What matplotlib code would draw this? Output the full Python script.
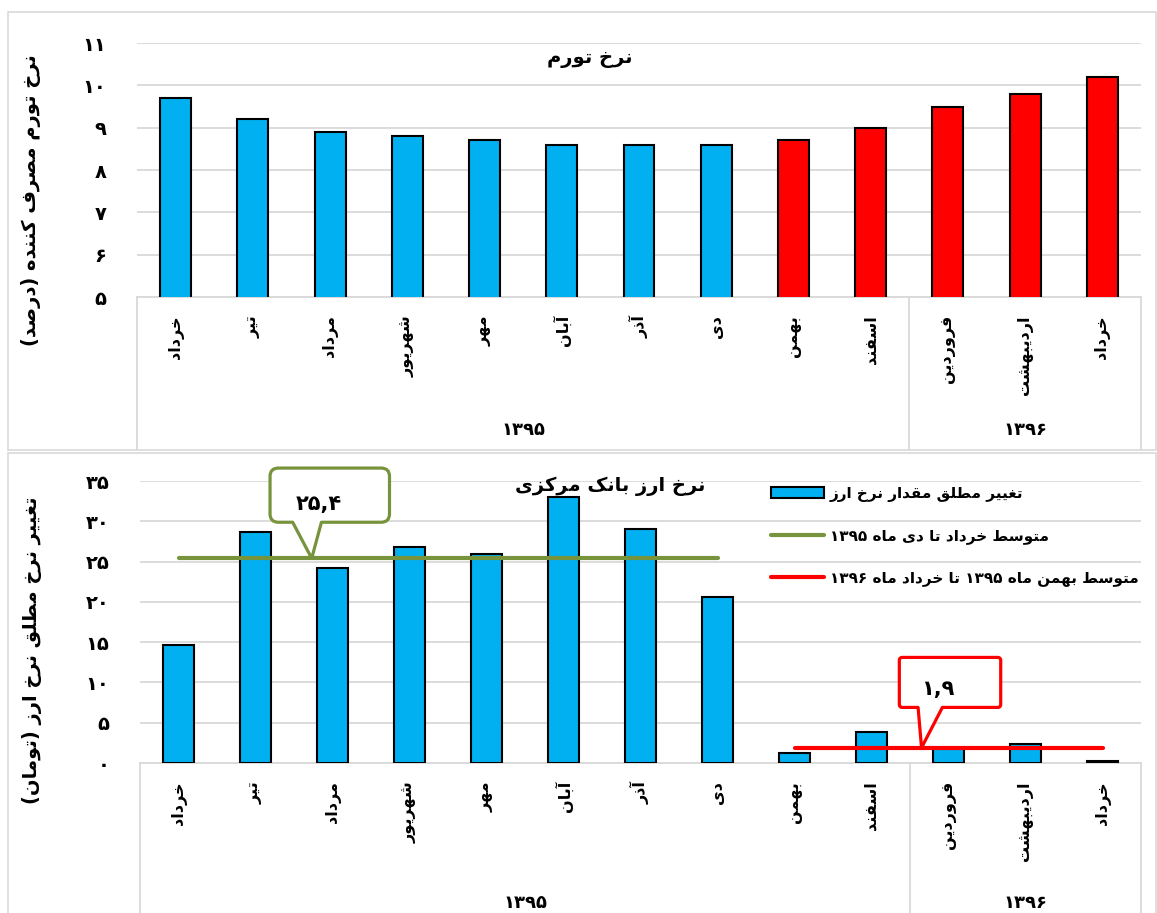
import re
import matplotlib
matplotlib.use('Agg')
import matplotlib.pyplot as plt
import matplotlib.transforms as mtransforms
from matplotlib.path import Path
from matplotlib.patches import PathPatch, Patch, Rectangle
from matplotlib.lines import Line2D

# ---------------- data ----------------
months = ['خرداد', 'تیر', 'مرداد', 'شهریور', 'مهر', 'آبان', 'آذر', 'دی',
          'بهمن', 'اسفند', 'فروردین', 'اردیبهشت', 'خرداد']
years = ['۱۳۹۵', '۱۳۹۶']
year_counts = [10, 3]

inflation = [9.7, 9.2, 8.9, 8.8, 8.7, 8.6, 8.6, 8.6, 8.7, 9.0, 9.5, 9.8, 10.2]
fx_change = [14.6, 28.7, 24.2, 26.8, 25.9, 33.0, 29.0, 20.6, 1.2, 3.9, 1.8, 2.3, 0.3]

split = 8                      # first month of the second period (bahman)
period_avg = [25.4, 1.9]
period_avg_txt = ['۲۵,۴', '۱,۹']

title1 = 'نرخ تورم'
ylabel1 = 'نرخ تورم مصرف کننده (درصد)'
title2 = 'نرخ ارز بانک مرکزی'
ylabel2 = 'تغییر نرخ مطلق نرخ ارز (تومان)'
legend_labels = ['تغییر مطلق مقدار نرخ ارز',
                 'متوسط خرداد تا دی ماه ۱۳۹۵',
                 'متوسط بهمن ماه ۱۳۹۵ تا خرداد ماه ۱۳۹۶']

BLUE = '#00B0F0'
RED = '#FF0000'
GREEN = '#77933C'
GRID = '#D9D9D9'

# ------------- tiny persian shaper (presentation forms + rtl) -------------
FORMS = {
    'ا': ('\uFE8D', '\uFE8E', None, None),
    'آ': ('\uFE81', '\uFE82', None, None),
    'ب': ('\uFE8F', '\uFE90', '\uFE91', '\uFE92'),
    'پ': ('\uFB56', '\uFB57', '\uFB58', '\uFB59'),
    'ت': ('\uFE95', '\uFE96', '\uFE97', '\uFE98'),
    'ج': ('\uFE9D', '\uFE9E', '\uFE9F', '\uFEA0'),
    'خ': ('\uFEA5', '\uFEA6', '\uFEA7', '\uFEA8'),
    'د': ('\uFEA9', '\uFEAA', None, None),
    'ذ': ('\uFEAB', '\uFEAC', None, None),
    'ر': ('\uFEAD', '\uFEAE', None, None),
    'ز': ('\uFEAF', '\uFEB0', None, None),
    'س': ('\uFEB1', '\uFEB2', '\uFEB3', '\uFEB4'),
    'ش': ('\uFEB5', '\uFEB6', '\uFEB7', '\uFEB8'),
    'ص': ('\uFEB9', '\uFEBA', '\uFEBB', '\uFEBC'),
    'ط': ('\uFEC1', '\uFEC2', '\uFEC3', '\uFEC4'),
    'غ': ('\uFECD', '\uFECE', '\uFECF', '\uFED0'),
    'ف': ('\uFED1', '\uFED2', '\uFED3', '\uFED4'),
    'ق': ('\uFED5', '\uFED6', '\uFED7', '\uFED8'),
    'ک': ('\uFB8E', '\uFB8F', '\uFB90', '\uFB91'),
    'گ': ('\uFB92', '\uFB93', '\uFB94', '\uFB95'),
    'ل': ('\uFEDD', '\uFEDE', '\uFEDF', '\uFEE0'),
    'م': ('\uFEE1', '\uFEE2', '\uFEE3', '\uFEE4'),
    'ن': ('\uFEE5', '\uFEE6', '\uFEE7', '\uFEE8'),
    'ه': ('\uFEE9', '\uFEEA', '\uFEEB', '\uFEEC'),
    'و': ('\uFEED', '\uFEEE', None, None),
    'ی': ('\uFBFC', '\uFBFD', '\uFBFE', '\uFBFF'),
}
LAM_ALEF = {'ا': ('\uFEFB', '\uFEFC'), 'آ': ('\uFEF5', '\uFEF6')}


def fa(text):
    toks = []
    i = 0
    while i < len(text):
        if text[i] == 'ل' and i + 1 < len(text) and text[i + 1] in LAM_ALEF:
            toks.append(('LA', text[i + 1]))
            i += 2
        else:
            toks.append((text[i], None))
            i += 1

    def dual(t):
        return t[0] in FORMS and FORMS[t[0]][2] is not None

    def joins(t):
        return t[0] == 'LA' or t[0] in FORMS

    out = []
    for k, t in enumerate(toks):
        prev = toks[k - 1] if k > 0 else None
        nxt = toks[k + 1] if k + 1 < len(toks) else None
        jp = prev is not None and dual(prev) and joins(t)
        if t[0] == 'LA':
            out.append(LAM_ALEF[t[1]][1 if jp else 0])
            continue
        if t[0] not in FORMS:
            out.append(t[0])
            continue
        f = FORMS[t[0]]
        jn = f[2] is not None and nxt is not None and joins(nxt)
        if jp and jn:
            out.append(f[3])
        elif jp:
            out.append(f[1])
        elif jn:
            out.append(f[2])
        else:
            out.append(f[0])
    vis = ''.join(out)[::-1]
    vis = re.sub('[۰-۹][۰-۹,]*', lambda m: m.group(0)[::-1], vis)
    return vis.translate(str.maketrans('()', ')('))


def fa_num(v):
    return str(v).translate(str.maketrans('0123456789', '۰۱۲۳۴۵۶۷۸۹'))


plt.rcParams['font.family'] = ['DejaVu Sans']

W, H = 1157, 913
fig = plt.figure(figsize=(W / 100, H / 100), dpi=100)


def px_axes(l, t, r, b):
    return fig.add_axes([l / W, 1 - b / H, (r - l) / W, (b - t) / H])


# chart area borders
for (l, t, r, b) in [(8, 12, 1156, 450), (8, 453, 1156, 920)]:
    fig.add_artist(Rectangle((l / W, 1 - b / H), (r - l) / W, (b - t) / H,
                             transform=fig.transFigure, fill=False,
                             ec=GRID, lw=1.2, clip_on=False))

x = list(range(len(months)))


def style_axis(ax, ymin, ymax, step, ylabel, label_pos, sep_depth, year_y):
    ax.set_xlim(-0.5, len(months) - 0.5)
    ax.set_ylim(ymin, ymax)
    ticks = list(range(ymin, ymax + 1, step))
    ax.set_yticks(ticks)
    ax.set_yticklabels([fa_num(t) for t in ticks], fontsize=14, fontweight='bold')
    ax.tick_params(axis='y', length=0, pad=22)
    ax.set_xticks(x)
    ax.set_xticklabels([fa(m) for m in months], rotation=90, va='top',
                       ha='center', fontsize=11.5, fontweight='bold')
    ax.tick_params(axis='x', length=0, pad=13)
    ax.grid(axis='y', color=GRID, lw=1.3)
    ax.set_axisbelow(True)
    for s in ['top', 'right', 'left']:
        ax.spines[s].set_visible(False)
    ax.spines['bottom'].set_color(GRID)
    ax.spines['bottom'].set_linewidth(1.3)
    ax.set_ylabel(fa(ylabel), fontsize=14, fontweight='bold')
    ax.yaxis.set_label_coords(*label_pos)
    # multi level category axis
    trans = mtransforms.blended_transform_factory(ax.transData, ax.transAxes)
    edges = [-0.5]
    for c in year_counts:
        edges.append(edges[-1] + c)
    for e in edges:
        ax.plot([e, e], [0, sep_depth], transform=trans, color=GRID,
                lw=1.3, clip_on=False)
    for k, yr in enumerate(years):
        ax.text((edges[k] + edges[k + 1]) / 2, year_y, fa(yr), transform=trans,
                ha='center', va='center', fontsize=13, fontweight='bold')


# ---------------- panel 1 : inflation ----------------
ax1 = px_axes(137, 43, 1141, 297)
colors1 = [BLUE if i < split else RED for i in x]
ax1.bar(x, inflation, width=0.4, color=colors1, edgecolor='black', lw=1.5, zorder=3)
style_axis(ax1, 5, 11, 1, ylabel1, (-0.0956, 0.38), -0.598, -0.524)
ax1.text(0.451, 0.94, fa(title1), transform=ax1.transAxes, ha='center',
         va='center', fontsize=14, fontweight='bold')

# ---------------- panel 2 : exchange rate ----------------
ax2 = px_axes(140, 481, 1141, 763)
ax2.bar(x, fx_change, width=0.4, color=BLUE, edgecolor='black', lw=1.5, zorder=3)
style_axis(ax2, 0, 35, 5, ylabel2, (-0.098, 0.40), -0.56, -0.4975)
ax2.text(0.47, 0.98, fa(title2), transform=ax2.transAxes, ha='center',
         va='center', fontsize=14, fontweight='bold')

ax2.plot([0, split - 1], [period_avg[0]] * 2, color=GREEN, lw=3,
         solid_capstyle='round', zorder=4)
ax2.plot([split, len(months) - 1], [period_avg[1]] * 2, color=RED, lw=3,
         solid_capstyle='round', zorder=4)


def callout(ax, xt, yt, text, color, left, right, bottom, top, base, r, txt_off):
    bl, br = base
    verts = [(bl, bottom), (0, 0), (br, bottom),
             (right - r, bottom), (right, bottom), (right, bottom + r),
             (right, top - r), (right, top), (right - r, top),
             (left + r, top), (left, top), (left, top - r),
             (left, bottom + r), (left, bottom), (left + r, bottom),
             (bl, bottom)]
    codes = [Path.MOVETO, Path.LINETO, Path.LINETO,
             Path.LINETO, Path.CURVE3, Path.CURVE3,
             Path.LINETO, Path.CURVE3, Path.CURVE3,
             Path.LINETO, Path.CURVE3, Path.CURVE3,
             Path.LINETO, Path.CURVE3, Path.CURVE3,
             Path.CLOSEPOLY]
    tr = (mtransforms.Affine2D().scale(fig.dpi / 72.0)
          + mtransforms.ScaledTranslation(xt, yt, ax.transData))
    ax.add_patch(PathPatch(Path(verts, codes), transform=tr, fc='white',
                           ec=color, lw=2.3, joinstyle='round',
                           clip_on=False, zorder=6))
    ax.annotate(text, xy=(xt, yt), xytext=txt_off, textcoords='offset points',
                ha='center', va='center', fontsize=15, fontweight='bold',
                zorder=7, annotation_clip=False)


callout(ax2, 1.73, period_avg[0], period_avg_txt[0], GREEN,
        -30, 56, 26, 65, (-13.7, 7), 6, (5, 39))
callout(ax2, 9.65, period_avg[1], period_avg_txt[1], RED,
        -16, 57, 29, 65, (-2.5, 15), 2, (12, 42))

handles = [Patch(fc=BLUE, ec='black', lw=1.5),
           Line2D([], [], color=GREEN, lw=3, solid_capstyle='round'),
           Line2D([], [], color=RED, lw=3, solid_capstyle='round')]
fig.legend(handles, [fa(t) for t in legend_labels], loc='upper left',
           bbox_to_anchor=(771 / W, 1 - 486 / H), frameon=False,
           prop={'size': 11, 'weight': 'bold'}, handlelength=3.5,
           handletextpad=0.35, labelspacing=1.72, borderpad=0,
           borderaxespad=0)

fig.savefig('out.png', dpi=100)
